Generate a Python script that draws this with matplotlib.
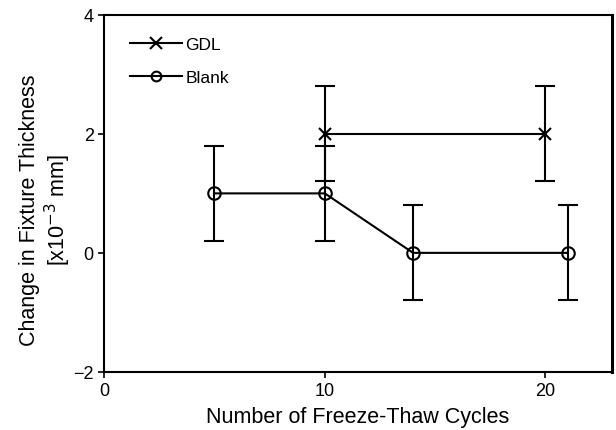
import matplotlib
matplotlib.use("Agg")
import matplotlib.pyplot as plt
from matplotlib.lines import Line2D

plt.rcParams["font.family"] = ["Liberation Sans", "DejaVu Sans"]

# freeze-thaw test results
gdl_cycles = [10, 20]
gdl_change = [2, 2]
gdl_err = [0.8, 0.8]

blank_cycles = [5, 10, 14, 21]
blank_change = [1, 1, 0, 0]
blank_err = [0.8, 0.8, 0.8, 0.8]

fig = plt.figure(figsize=(6.16, 4.31), dpi=100)
ax = fig.add_axes([0.169, 0.135, 0.824, 0.828])

style = dict(color="black", lw=1.5, elinewidth=1.5, capsize=7, capthick=1.5,
             markersize=9, markeredgewidth=1.5)
ax.errorbar(gdl_cycles, gdl_change, yerr=gdl_err, marker="x", **style)
ax.errorbar(blank_cycles, blank_change, yerr=blank_err, marker="o",
            markerfacecolor="none", **style)

ax.set_xlim(0, 23)
ax.set_ylim(-2, 4)
ax.set_xticks([0, 10, 20])
ax.set_yticks([-2, 0, 2, 4])
ax.tick_params(direction="out", length=4, width=1.2, labelsize=13,
               top=False, right=False)
for side in ["left", "bottom", "top"]:
    ax.spines[side].set_linewidth(1.5)
ax.spines["right"].set_linewidth(2.2)

ax.set_xlabel("Number of Freeze-Thaw Cycles", fontsize=15.5, labelpad=5)
ax.set_ylabel("Change in Fixture Thickness\n[x10$^{\\mathrm{-3}}$ mm]",
              fontsize=15.5, linespacing=1.1)
ax.yaxis.set_label_coords(-0.062, 0.455)

# legend shows plain line + marker, no error bars
handles = [
    Line2D([], [], color="black", lw=1.5, marker="x", markersize=8,
           markeredgewidth=1.5),
    Line2D([], [], color="black", lw=1.5, marker="o", markersize=7,
           markerfacecolor="none", markeredgewidth=1.5),
]
ax.legend(handles, ["GDL", "Blank"], loc="upper left",
          bbox_to_anchor=(0.037, 0.957), frameon=False, fontsize=12.5,
          handlelength=3.0, handletextpad=0.2, labelspacing=1.0,
          borderaxespad=0)

fig.savefig("out.png", dpi=100)
